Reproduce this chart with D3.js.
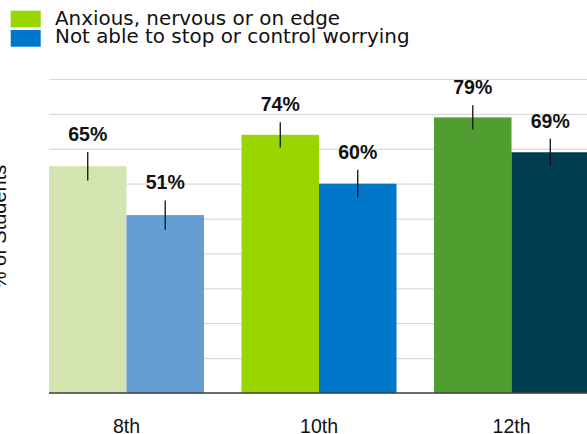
<!DOCTYPE html>
<html lang="en">
  <head>
    <meta charset="utf-8">
    <title>Worry by grade</title>
    <script src="https://d3js.org/d3.v7.js"></script>
    <style>
      body { margin: 0; overflow: hidden; background: white; }
      svg { display: block; }
    </style>
  </head>
  <body>
    <script>
      // data (percent of students)
      const grades = ["8th", "10th", "12th"];
      const seriesNames = ["Anxious, nervous or on edge", "Not able to stop or control worrying"];
      const anxious = [65, 74, 79];
      const worrying = [51, 60, 69];
      const anxiousErr = [4.1, 3.6, 3.5];
      const worryingErr = [4.2, 4.0, 3.9];
      const yTicks = [0, 10, 20, 30, 40, 50, 60, 70, 80, 90];

      // colours: each grade has its own shade of the two series
      const anxiousColors = ["#d4e4b0", "#99d600", "#519e30"];
      const worryingColors = ["#659ed2", "#0077c8", "#003d50"];
      const legendColors = ["#99d600", "#0077c8"];

      const w = 587;
      const h = 434;
      const margin = {top: 79, right: -2, bottom: 41, left: 49};
      const innerWidth = w - margin.left - margin.right;
      const innerHeight = h - margin.top - margin.bottom;

      const bardata = [];
      grades.forEach((g, i) => {
        bardata.push({grade: g, series: seriesNames[0], value: anxious[i], err: anxiousErr[i], color: anxiousColors[i]});
        bardata.push({grade: g, series: seriesNames[1], value: worrying[i], err: worryingErr[i], color: worryingColors[i]});
      });

      const x0 = d3.scaleBand()
                   .domain(grades)
                   .range([0, innerWidth])
                   .paddingInner(0.195)
                   .paddingOuter(0);

      const x1 = d3.scaleBand()
                   .domain(seriesNames)
                   .range([0, x0.bandwidth()]);

      const yScale = d3.scaleLinear()
                       .domain([0, 90])
                       .range([innerHeight, 0]);

      const svg = d3.select("body")
                    .append("svg")
                    .attr("width", w)
                    .attr("height", h);

      svg.append("rect")
         .attr("width", w)
         .attr("height", h)
         .attr("fill", "white");

      const plot = svg.append("g")
                      .attr("transform", `translate (${margin.left}, ${margin.top})`);

      // gridlines
      const grid = plot.append("g")
                       .call(d3.axisLeft(yScale).tickValues(yTicks).tickSize(-(w - margin.left)).tickFormat(""));
      grid.select(".domain").remove();
      grid.selectAll("line").attr("stroke", "#d9d9d9").attr("stroke-width", 1.2);

      // bars
      plot.selectAll("rect.bar")
          .data(bardata)
          .enter().append("rect")
          .attr("class", "bar")
          .attr("x", d => x0(d.grade) + x1(d.series))
          .attr("y", d => yScale(d.value))
          .attr("width", x1.bandwidth())
          .attr("height", d => innerHeight - yScale(d.value))
          .attr("fill", d => d.color);

      // error bars
      plot.selectAll("line.err")
          .data(bardata)
          .enter().append("line")
          .attr("class", "err")
          .attr("x1", d => x0(d.grade) + x1(d.series) + x1.bandwidth() / 2)
          .attr("x2", d => x0(d.grade) + x1(d.series) + x1.bandwidth() / 2)
          .attr("y1", d => yScale(d.value + d.err))
          .attr("y2", d => yScale(d.value - d.err))
          .attr("stroke", "#111")
          .attr("stroke-width", 1.3);

      // value labels
      plot.selectAll("text.val")
          .data(bardata)
          .enter().append("text")
          .attr("class", "val")
          .attr("x", d => x0(d.grade) + x1(d.series) + x1.bandwidth() / 2)
          .attr("y", d => yScale(d.value + d.err) - 11)
          .attr("text-anchor", "middle")
          .attr("font-family", "Liberation Sans, Arial, sans-serif")
          .attr("font-weight", "bold")
          .attr("font-size", 19.5)
          .attr("fill", "#111")
          .text(d => d.value + "%");

      // x axis
      const xAxis = plot.append("g")
                        .attr("transform", `translate (0, ${innerHeight})`)
                        .call(d3.axisBottom(x0).tickSize(0));
      xAxis.select(".domain")
           .attr("stroke", "#404040")
           .attr("stroke-width", 1.6)
           .attr("d", `M0,0H${w - margin.left}`);
      xAxis.selectAll("text")
           .attr("y", 39.5)
           .attr("dy", null)
           .attr("font-family", "Liberation Sans, Arial, sans-serif")
           .attr("font-size", 19.5)
           .attr("fill", "#111");

      // y label, mostly cut off at the left edge
      svg.append("text")
         .attr("transform", "rotate(-90)")
         .attr("x", -227)
         .attr("y", 6)
         .attr("text-anchor", "middle")
         .attr("font-family", "Liberation Sans, Arial, sans-serif")
         .attr("font-size", 20)
         .attr("fill", "#111")
         .text("% of Students");

      // legend
      const legend = svg.append("g");
      seriesNames.forEach((name, i) => {
        legend.append("rect")
              .attr("x", 10.7)
              .attr("y", 10.7 + i * 19.3)
              .attr("width", 30)
              .attr("height", 16.7)
              .attr("fill", legendColors[i]);
        legend.append("text")
              .attr("x", 55)
              .attr("y", 24.5 + i * 18.5)
              .attr("font-family", "DejaVu Sans, Verdana, sans-serif")
              .attr("font-size", 19.9)
              .attr("fill", "#111")
              .text(name);
      });
    </script>
  </body>
</html>
